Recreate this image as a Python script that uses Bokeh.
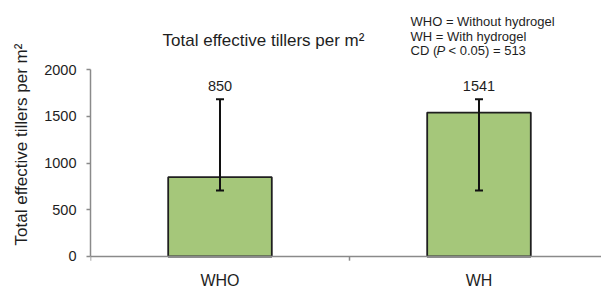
from bokeh.plotting import figure
from bokeh.models import (Range1d, FixedTicker, ColumnDataSource, Whisker, LabelSet,
                          Label, LinearAxis, Span)
from bokeh.core.properties import value
from bokeh.embed import file_html
from bokeh.resources import INLINE

# ---- data ----
categories = ["WHO", "WH"]
x_pos = [0.5, 1.5]
values = [850, 1541]
err_lower = [707, 707]
err_upper = [1685, 1685]
value_labels = ["850", "1541"]
y_ticks = [0, 500, 1000, 1500, 2000]
title_text = "Total effective tillers per m\u00b2"
note_lines = ["WHO = Without hydrogel", "WH = With hydrogel"]

FONT = "Liberation Sans"
TXT = "#1e1e1e"
AXC = "#8a8a8a"

src = ColumnDataSource(dict(x=x_pos, top=values, lower=err_lower, upper=err_upper,
                            vlab=value_labels, cat=categories,
                            zero=[0] * len(categories)))
# category boundaries (separator ticks on the baseline)
bounds_x = [x - 0.5 for x in x_pos]
tick_src = ColumnDataSource(dict(x=bounds_x, y0=[0] * len(bounds_x),
                                 y1=[-45] * len(bounds_x)))

p = figure(width=601, height=288, output_backend="svg", toolbar_location=None,
           x_range=Range1d(0, 1.973), y_range=Range1d(-343, 2742),
           min_border_left=90, min_border_right=0, min_border_top=0,
           min_border_bottom=0, x_axis_location=None, y_axis_location=None)
p.outline_line_color = None
p.xgrid.visible = False
p.ygrid.visible = False
p.background_fill_color = "white"
p.border_fill_color = "white"

# y axis
ya = LinearAxis(ticker=FixedTicker(ticks=y_ticks), bounds=(0, 2000))
ya.axis_line_color = AXC
ya.axis_line_width = 1.5
ya.major_tick_line_color = AXC
ya.major_tick_line_width = 1.5
ya.major_tick_out = 4
ya.major_tick_in = 0
ya.minor_tick_line_color = None
ya.major_label_text_font = FONT
ya.major_label_text_font_size = "14.5px"
ya.major_label_text_color = TXT
ya.major_label_standoff = 10
ya.axis_label = title_text
ya.axis_label_text_font = FONT
ya.axis_label_text_font_size = "17px"
ya.axis_label_text_font_style = "normal"
ya.axis_label_text_color = TXT
ya.axis_label_standoff = 10
p.add_layout(ya, "left")

# category baseline (x axis line) and separator ticks
p.add_layout(Span(location=0, dimension="width", line_color=AXC, line_width=1.5))
p.segment(x0="x", y0="y0", x1="x", y1="y1", source=tick_src,
          line_color=AXC, line_width=1.5)

# bars
p.vbar(x="x", top="top", bottom=0, width=0.40, source=src,
       fill_color="#a5c77a", line_color="#1f1f1f", line_width=1.8)

# error bars
w = Whisker(source=src, base="x", lower="lower", upper="upper",
            line_color="#111111", line_width=2, level="overlay")
for h in (w.upper_head, w.lower_head):
    h.size = 8
    h.line_width = 2
    h.line_color = "#111111"
p.add_layout(w)

# value labels
p.add_layout(LabelSet(source=src, x="x", y="upper", text="vlab", y_offset=8,
                      text_align="center", text_baseline="alphabetic",
                      text_font=value(FONT), text_font_size=value("14.5px"),
                      text_color=TXT))

# category labels
p.add_layout(LabelSet(source=src, x="x", y="zero", text="cat", y_offset=-30,
                      text_align="center", text_baseline="alphabetic",
                      text_font=value(FONT), text_font_size=value("16px"),
                      text_color=TXT))

# chart title (screen units relative to the frame's bottom-left)
p.add_layout(Label(x=173, y=248, x_units="screen", y_units="screen", text=title_text,
                   text_align="center", text_baseline="middle",
                   text_font=FONT, text_font_size="17px", text_color=TXT))

# notes
NX, NY0, DY, NFS = 320, 267, 14.5, "13px"
for i, line in enumerate(note_lines):
    p.add_layout(Label(x=NX, y=NY0 - DY * i, x_units="screen", y_units="screen",
                       text=line, text_align="left", text_baseline="middle",
                       text_font=FONT, text_font_size=NFS, text_color=TXT))
cd_y = NY0 - DY * 2
p.add_layout(Label(x=NX, y=cd_y, x_units="screen", y_units="screen", text="CD (",
                   text_align="left", text_baseline="middle",
                   text_font=FONT, text_font_size=NFS, text_color=TXT))
p.add_layout(Label(x=NX + 26, y=cd_y, x_units="screen", y_units="screen", text="P",
                   text_align="left", text_baseline="middle", text_font_style="italic",
                   text_font=FONT, text_font_size=NFS, text_color=TXT))
p.add_layout(Label(x=NX + 38, y=cd_y, x_units="screen", y_units="screen",
                   text="< 0.05) = 513",
                   text_align="left", text_baseline="middle",
                   text_font=FONT, text_font_size=NFS, text_color=TXT))

open("out.html", "w").write(file_html(p, INLINE))
